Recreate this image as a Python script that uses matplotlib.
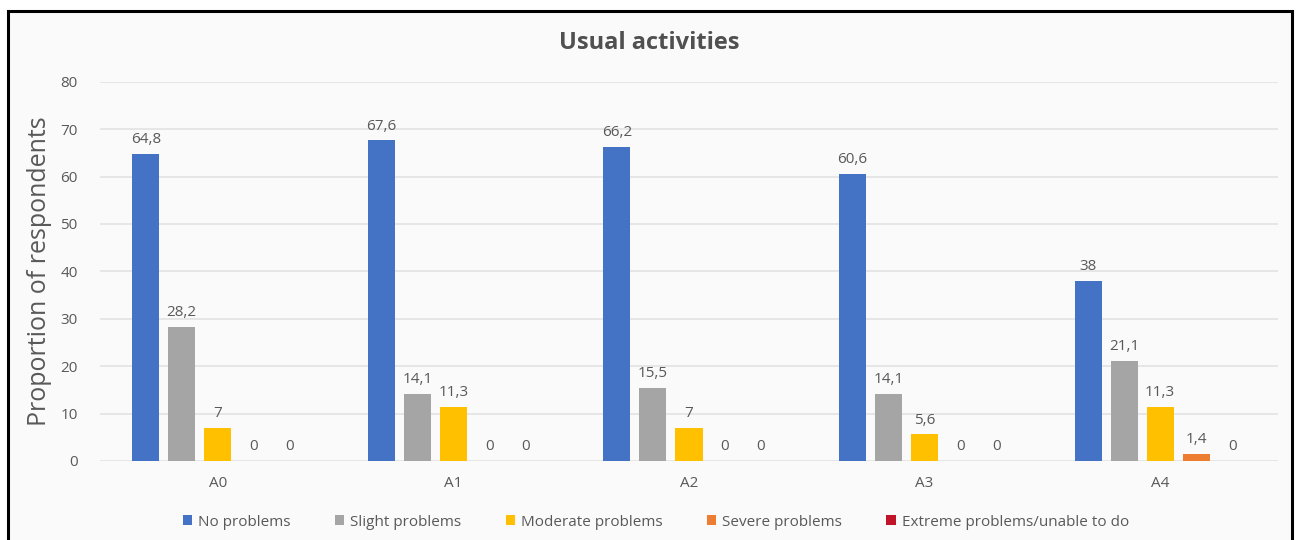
import matplotlib.pyplot as plt
from matplotlib.patches import Rectangle
import numpy as np

categories = ["A0", "A1", "A2", "A3", "A4"]
series_names = ["No problems", "Slight problems", "Moderate problems",
                "Severe problems", "Extreme problems/unable to do"]
no_problems = [64.8, 67.6, 66.2, 60.6, 38]
slight_problems = [28.2, 14.1, 15.5, 14.1, 21.1]
moderate_problems = [7, 11.3, 7, 5.6, 11.3]
severe_problems = [0, 0, 0, 0, 1.4]
extreme_problems = [0, 0, 0, 0, 0]
series_values = [no_problems, slight_problems, moderate_problems,
                 severe_problems, extreme_problems]
colors = ["#4472C4", "#A5A5A5", "#FFC000", "#ED7D31", "#C0142B"]
y_ticks = [0, 10, 20, 30, 40, 50, 60, 70, 80]

plt.rcParams['font.family'] = ['Open Sans', 'DejaVu Sans']

fig = plt.figure(figsize=(12.99, 5.40), dpi=100, facecolor="white")

# framed panel behind the chart
panel = Rectangle((8 / 1299, -0.02), (1292 - 8) / 1299, 1 - 11 / 540 + 0.02,
                  transform=fig.transFigure, facecolor="#fafafa",
                  edgecolor="black", linewidth=2.2, zorder=-10)
fig.patches.append(panel)

ax = fig.add_axes([100 / 1299, 1 - 461 / 540, (1278 - 100) / 1299, (461 - 81.7) / 540])
ax.set_facecolor("none")

label_size = 11
x = np.arange(len(categories))
step = 36 / 235.5
width = 27 / 235.5
for i, (name, vals, col) in enumerate(zip(series_names, series_values, colors)):
    pos = x + (i - 2) * step
    ax.bar(pos, vals, width=width, color=col, label=name, zorder=3)
    for px, v in zip(pos, vals):
        txt = f"{v:g}".replace(".", ",")
        ax.annotate(txt, (px, v), xytext=(0, 5), textcoords="offset points",
                    ha="center", va="bottom", fontsize=label_size, color="#595959")

ax.set_xlim(-0.5, len(categories) - 0.5)
ax.set_ylim(0, 80)
ax.set_yticks(y_ticks)
ax.set_xticks(x)
ax.set_xticklabels(categories)
ax.grid(axis="y", color="#e2e2e2", linewidth=1.2, zorder=0)
ax.set_axisbelow(True)
for s in ax.spines.values():
    s.set_visible(False)
ax.tick_params(axis="both", length=0, colors="#595959", labelsize=label_size)
ax.tick_params(axis="y", pad=16)
ax.tick_params(axis="x", pad=11)

ax.set_ylabel("Proportion of respondents", fontsize=18, color="#595959", labelpad=6)
fig.text(0.5, 1 - 43 / 540, "Usual activities", ha="center", va="center",
         fontsize=17, fontweight="bold", color="#505050")

ax.legend(loc="center", bbox_to_anchor=((656 - 100) / 1178, (461 - 522) / (461 - 81.7)),
          ncol=5, frameon=False, fontsize=label_size, handlelength=0.6, handleheight=0.6,
          handletextpad=0.4, columnspacing=2.9, labelcolor="#595959")

fig.savefig("out.png", dpi=100, facecolor="white")
